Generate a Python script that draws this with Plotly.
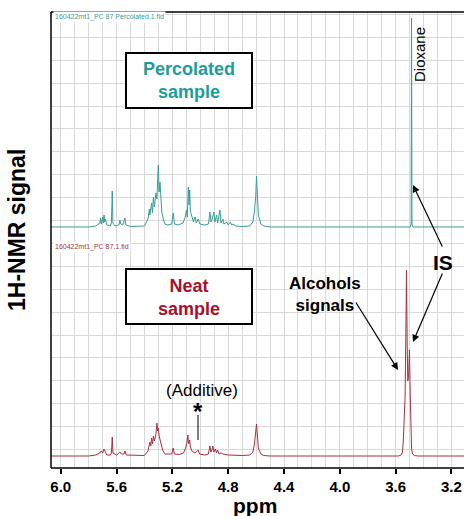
import plotly.graph_objects as go

# ---- spectra (ppm, intensity in arbitrary units) ----
perc_ppm = [6.07, 5.80, 5.75, 5.72, 5.715, 5.71, 5.70, 5.695, 5.69, 5.685, 5.68, 5.67,
            5.645, 5.637, 5.631, 5.626, 5.612, 5.583, 5.576, 5.569, 5.555, 5.547, 5.540, 5.533,
            5.50, 5.40, 5.375, 5.365, 5.361, 5.349, 5.343, 5.336, 5.329, 5.318, 5.311, 5.301,
            5.295, 5.289, 5.282, 5.275, 5.264, 5.253, 5.232, 5.205, 5.194, 5.185, 5.160, 5.124,
            5.110, 5.099, 5.093, 5.086, 5.081, 5.076, 5.071, 5.060, 5.049, 5.038, 5.028, 5.015,
            5.003, 4.967, 4.942, 4.931, 4.924, 4.917, 4.902, 4.895, 4.883, 4.876, 4.859, 4.852,
            4.838, 4.831, 4.810, 4.800, 4.784, 4.775, 4.766, 4.745, 4.70, 4.645, 4.623, 4.612,
            4.603, 4.597, 4.590, 4.584, 4.566, 4.544, 4.50, 3.53, 3.495, 3.489, 3.486, 3.483,
            3.477, 3.11]
perc_int = [0, 0, 1, 4, 9, 3, 10, 4, 12, 5, 8, 2,
            1, 4, 36, 4, 1, 2, 7, 3, 2, 5, 9, 2,
            0.5, 1, 8, 18, 12, 24, 14, 30, 20, 34, 28, 62,
            35, 45, 22, 14, 7, 3, 2, 3, 14, 3, 2, 4,
            9, 17, 10, 40, 22, 37, 16, 9, 5, 10, 4, 8,
            3, 2, 3, 15, 5, 7, 15, 5, 12, 4, 17, 4,
            8, 3, 5, 2, 5, 2, 3, 1, 0.5, 1, 5, 16,
            30, 51, 30, 12, 3, 1, 0, 0, 0, 3, 209, 3,
            0, 0]

neat_ppm = [6.07, 5.80, 5.75, 5.72, 5.71, 5.70, 5.69, 5.68, 5.67, 5.645, 5.637, 5.631,
            5.626, 5.60, 5.576, 5.565, 5.547, 5.540, 5.530, 5.40, 5.375, 5.361, 5.355, 5.349,
            5.342, 5.336, 5.329, 5.318, 5.311, 5.305, 5.301, 5.295, 5.289, 5.282, 5.270, 5.253,
            5.22, 5.205, 5.194, 5.185, 5.150, 5.120, 5.105, 5.095, 5.089, 5.084, 5.076, 5.071,
            5.060, 5.049, 5.038, 5.028, 5.015, 5.005, 4.967, 4.942, 4.931, 4.924, 4.917, 4.910,
            4.902, 4.892, 4.883, 4.876, 4.865, 4.850, 4.838, 4.80, 4.70, 4.645, 4.623, 4.612,
            4.603, 4.597, 4.590, 4.584, 4.566, 4.544, 4.50, 3.58, 3.56, 3.551, 3.545, 3.539,
            3.532, 3.527, 3.522, 3.517, 3.513, 3.507, 3.501, 3.495, 3.491, 3.486, 3.479, 3.466,
            3.44, 3.11]
neat_int = [0, 0, 1, 3, 5, 3, 7, 4, 1, 1, 3, 19,
            3, 1, 4, 2, 2, 5, 1, 0.5, 5, 14, 10, 18,
            12, 20, 15, 22, 33, 25, 28, 20, 16, 12, 6, 2,
            1.5, 2, 8, 2, 1.5, 3, 8, 14, 21, 12, 16, 9,
            5, 4, 3, 4, 6, 2, 1, 2, 10, 4, 6, 10,
            4, 7, 3, 6, 2, 3, 2, 1, 0.5, 1, 4, 12,
            22, 32, 20, 8, 2, 0.5, 0, 0, 1, 4, 15, 35,
            60, 120, 186, 110, 75, 80, 106, 60, 25, 8, 2, 0.5,
            0, 0]

ppm_ticks = [6.0, 5.6, 5.2, 4.8, 4.4, 4.0, 3.6, 3.2]

TEAL = "#3a9c9a"
WINE = "#a8303f"
FONT = "Liberation Sans, Arial, sans-serif"

W, H = 464, 516
ML, MR, MT, MB = 51, 0, 12, 48
PW, PH = W - ML - MR, H - MT - MB


def px(x):
    return (x - ML) / PW


def py(y):
    return (H - MB - y) / PH


fig = go.Figure()
fig.add_trace(go.Scatter(x=perc_ppm, y=perc_int, mode="lines", xaxis="x", yaxis="y2",
                         line=dict(color=TEAL, width=1), hoverinfo="skip"))
fig.add_trace(go.Scatter(x=neat_ppm, y=neat_int, mode="lines", xaxis="x", yaxis="y",
                         line=dict(color=WINE, width=1), hoverinfo="skip"))

grid = "#d9d9d9"
yax = dict(showticklabels=False, ticks="", showgrid=True, gridcolor=grid, gridwidth=1,
           zeroline=False, tick0=7, dtick=22.8, showline=False)

fig.update_layout(
    width=W, height=H,
    margin=dict(l=ML, r=MR, t=MT, b=MB),
    paper_bgcolor="white", plot_bgcolor="white",
    showlegend=False,
    xaxis=dict(range=[6.07, 3.11], tickvals=ppm_ticks,
               ticktext=[f"{v:.1f}" for v in ppm_ticks],
               ticks="outside", ticklen=5, tickwidth=1.5, tickcolor="black",
               tickfont=dict(family=FONT, size=15, color="black", weight="bold"),
               showgrid=True, gridcolor=grid, gridwidth=1,
               minor=dict(dtick=0.1, showgrid=True, gridcolor=grid, gridwidth=1, ticks=""),
               zeroline=False, showline=False, anchor="y"),
    yaxis=dict(domain=[0, 0.5], range=[-12, 216], anchor="x", **yax),
    yaxis2=dict(domain=[0.5, 1], range=[-13, 215], anchor="x", **yax),
)

shapes = [
    # plot frame: left, top, bottom
    dict(type="line", xref="paper", yref="paper", x0=0, x1=0, y0=0, y1=1,
         line=dict(color="black", width=1.5)),
    dict(type="line", xref="paper", yref="paper", x0=0, x1=1, y0=1, y1=1,
         line=dict(color="black", width=1.5)),
    dict(type="line", xref="paper", yref="paper", x0=0, x1=1, y0=0, y1=0,
         line=dict(color="black", width=1.5)),
    # sample boxes
    dict(type="rect", xref="paper", yref="paper", x0=px(126), x1=px(252), y0=py(108), y1=py(53),
         line=dict(color="black", width=2), fillcolor="white", layer="above"),
    dict(type="rect", xref="paper", yref="paper", x0=px(126), x1=px(252), y0=py(324), y1=py(269),
         line=dict(color="black", width=2), fillcolor="white", layer="above"),
    # additive marker stem
    dict(type="line", xref="paper", yref="paper", x0=px(198), x1=px(198), y0=py(415), y1=py(440),
         line=dict(color="black", width=1)),
]
fig.update_layout(shapes=shapes)


def txt(x, y, text, size, color="black", bold=False, angle=0, xanchor="center", **kw):
    fig.add_annotation(x=px(x), y=py(y), xref="paper", yref="paper", text=text,
                       showarrow=False, textangle=angle, xanchor=xanchor, yanchor="middle",
                       font=dict(family=FONT, size=size, color=color,
                                 weight="bold" if bold else "normal"), **kw)


def arrow(hx, hy, tx, ty):
    fig.add_annotation(x=px(hx), y=py(hy), xref="paper", yref="paper",
                       ax=tx - hx, ay=ty - hy, axref="pixel", ayref="pixel",
                       text="", showarrow=True, arrowhead=2, arrowsize=1.2,
                       arrowwidth=1.2, arrowcolor="black")


txt(53, 17, "160422mt1_PC 87 Percolated.1.fid", 7, TEAL, xanchor="left", bgcolor="white")
txt(53, 247, "160422mt1_PC 87.1.fid", 7, WINE, xanchor="left", bgcolor="white")

txt(189, 81, "Percolated<br>sample", 18, "#1b9d9a", bold=True)
txt(189, 297, "Neat<br>sample", 18, "#a8102c", bold=True)

txt(419, 55, "Dioxane", 15, angle=-90)
txt(443, 262, "IS", 21, bold=True)
txt(325, 294, "Alcohols<br>signals", 17, bold=True)
txt(202, 390, "(Additive)", 17)
txt(198, 411, "*", 24, bold=True)

arrow(413, 185, 443, 248)
arrow(413, 342, 443, 272)
arrow(398, 370, 355, 301)

# axis titles
txt(255, 505, "ppm", 21, bold=True)
txt(17, 230, "1H-NMR signal", 23, bold=True, angle=-90)

fig.write_html("out.html")
